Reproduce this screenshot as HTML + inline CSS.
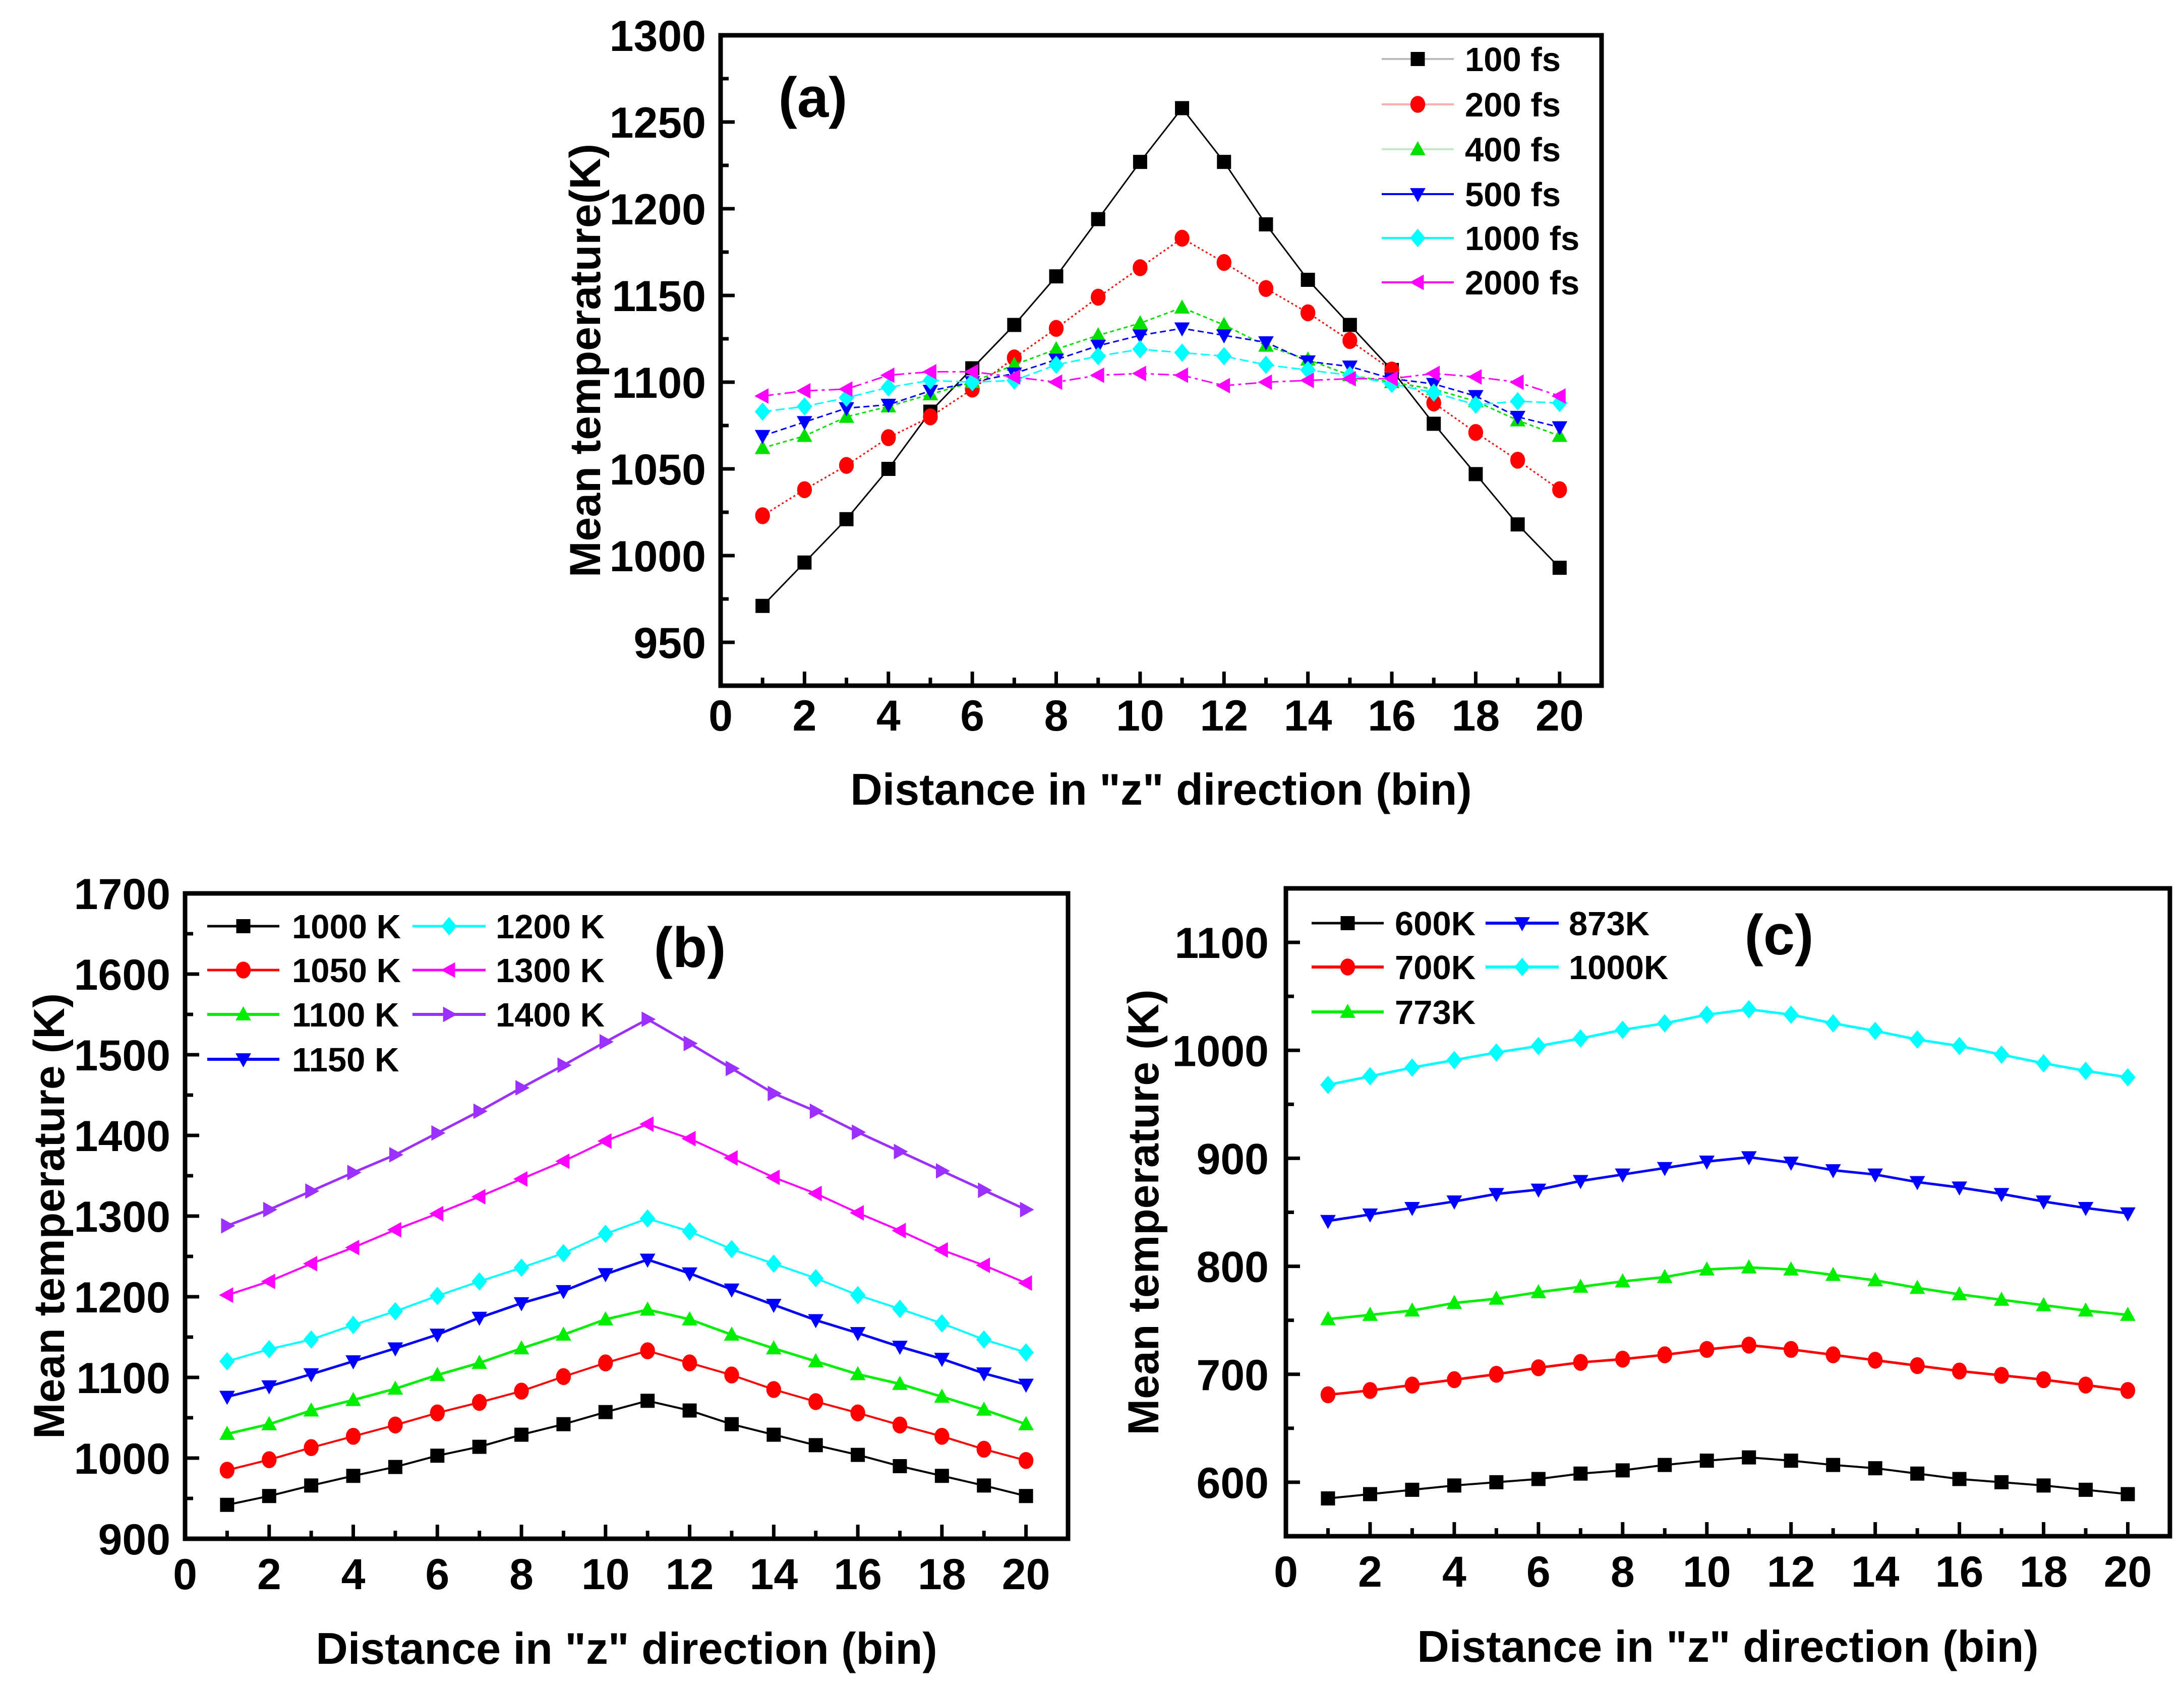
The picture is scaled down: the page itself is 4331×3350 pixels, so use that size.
<!DOCTYPE html>
<html><head><meta charset="utf-8"><title>Mean temperature vs distance</title>
<style>
html,body{margin:0;padding:0;background:#fff;}
svg{display:block;}
text{font-family:"Liberation Sans",Arial,sans-serif;font-weight:bold;fill:#000;}
</style></head>
<body>
<svg id="fig" xmlns="http://www.w3.org/2000/svg" width="4331" height="3350" viewBox="0 0 4331 3350">
<rect x="0" y="0" width="4331" height="3350" fill="#fff"/>
</svg>
<script>
// ---------- data ----------
const bins = [1,2,3,4,5,6,7,8,9,10,11,12,13,14,15,16,17,18,19,20];
const xTicks = [0,2,4,6,8,10,12,14,16,18,20];

// panel (a)
const aLabels = ["100 fs","200 fs","400 fs","500 fs","1000 fs","2000 fs"];
const a100 = [971,996,1021,1050,1083,1108,1133,1161,1194,1227,1258,1227,1191,1159,1133,1107,1076,1047,1018,993];
const a200 = [1023,1038,1052,1068,1080,1096,1114,1131,1149,1166,1183,1169,1154,1140,1124,1107,1088,1071,1055,1038];
const a400 = [1062,1069,1080,1086,1093,1100,1110,1119,1127,1134,1143,1133,1121,1113,1104,1100,1096,1089,1078,1069];
const a500 = [1069,1077,1085,1087,1095,1100,1105,1113,1121,1127,1131,1127,1123,1112,1109,1102,1099,1092,1080,1074];
const a1000 = [1083,1086,1091,1097,1101,1100,1101,1110,1115,1119,1117,1115,1110,1107,1104,1099,1094,1087,1089,1088];
const a2000 = [1092,1095,1096,1104,1106,1106,1103,1100,1104,1105,1104,1098,1100,1101,1102,1102,1105,1103,1100,1092];
const aYTicks = [950,1000,1050,1100,1150,1200,1250,1300];

// panel (b)
const bLabels = ["1000 K","1050 K","1100 K","1150 K","1200 K","1300 K","1400 K"];
const b1000 = [942,953,966,978,989,1003,1014,1029,1042,1057,1071,1059,1042,1029,1016,1004,990,978,966,953];
const b1050 = [985,998,1013,1027,1041,1056,1069,1083,1101,1118,1133,1118,1103,1085,1070,1056,1041,1027,1011,997];
const b1100 = [1030,1042,1059,1072,1086,1103,1118,1136,1153,1172,1184,1172,1153,1136,1120,1104,1092,1076,1060,1042];
const b1150 = [1076,1089,1104,1120,1136,1153,1174,1192,1207,1228,1246,1229,1209,1190,1171,1155,1138,1123,1105,1091];
const b1200 = [1120,1135,1147,1165,1182,1201,1219,1236,1254,1278,1297,1281,1259,1241,1223,1202,1185,1167,1147,1131];
const b1300 = [1202,1219,1241,1261,1283,1303,1324,1346,1368,1393,1414,1396,1372,1348,1328,1304,1282,1258,1239,1217];
const b1400 = [1288,1308,1331,1354,1376,1403,1430,1459,1487,1516,1544,1514,1483,1452,1430,1404,1380,1356,1332,1308];
const bYTicks = [900,1000,1100,1200,1300,1400,1500,1600,1700];

// panel (c)
const cLabels = ["600K","700K","773K","873K","1000K"];
const c600 = [585,589,593,597,600,603,608,611,616,620,623,620,616,613,608,603,600,597,593,589];
const c700 = [681,685,690,695,700,706,711,714,718,723,727,723,718,713,708,703,699,695,690,685];
const c773 = [751,755,759,766,770,776,781,786,790,797,799,797,792,787,780,774,769,764,759,755];
const c873 = [842,848,854,860,867,871,879,885,891,897,901,896,889,885,878,873,867,860,854,849];
const c1000 = [968,976,984,991,998,1004,1011,1019,1025,1033,1038,1033,1025,1018,1010,1004,996,988,981,975];
const cYTicks = [600,700,800,900,1000,1100];

// ---------- drawing ----------
const NS = "http://www.w3.org/2000/svg";
const svg = document.getElementById("fig");
function mk(parent, tag, attrs, txt){
  const e = document.createElementNS(NS, tag);
  for (const k in attrs) e.setAttribute(k, attrs[k]);
  if (txt !== undefined) e.textContent = txt;
  parent.appendChild(e);
  return e;
}
function markerPath(shape, x, y, s){
  if (shape === "square") return `M${x-s},${y-s}h${2*s}v${2*s}h${-2*s}z`;
  if (shape === "up") return `M${x},${y-s*1.15}L${x+s*1.1},${y+s*0.85}L${x-s*1.1},${y+s*0.85}z`;
  if (shape === "down") return `M${x},${y+s*1.15}L${x+s*1.1},${y-s*0.85}L${x-s*1.1},${y-s*0.85}z`;
  if (shape === "diamond") return `M${x},${y-s*1.3}L${x+s*1.1},${y}L${x},${y+s*1.3}L${x-s*1.1},${y}z`;
  if (shape === "left") return `M${x-s*1.15},${y}L${x+s*0.85},${y-s*1.1}L${x+s*0.85},${y+s*1.1}z`;
  if (shape === "right") return `M${x+s*1.15},${y}L${x-s*0.85},${y-s*1.1}L${x-s*0.85},${y+s*1.1}z`;
  return "";
}
function drawMarker(g, shape, x, y, s, color){
  if (shape === "circle") return mk(g, "ellipse", {cx:x, cy:y, rx:s*1.05, ry:s*1.2, fill:color});
  return mk(g, "path", {d:markerPath(shape, x, y, s), fill:color});
}

function panel(cfg){
  const g = mk(svg, "g", {});
  
  
  const X = v => cfg.L + (v - cfg.xmin) / (cfg.xmax - cfg.xmin) * (cfg.R - cfg.L);
  const Y = v => cfg.B - (v - cfg.ymin) / (cfg.ymax - cfg.ymin) * (cfg.B - cfg.T);

  cfg.series.forEach((s, si) => {
    const sg = mk(g, "g", {});
    
    
    const pts = s.values.map((v, i) => X(bins[i]) + "," + Y(v)).join(" ");
    const line = mk(sg, "polyline", {points:pts, fill:"none", stroke:s.color, "stroke-width":s.lw, "stroke-dasharray":s.dash || "none"});
    
    
    s.values.forEach((v, i) => {
      const m = drawMarker(sg, s.shape, X(bins[i]), Y(v), cfg.ms, s.color);
      
      
    });
  });

  const fr = mk(g, "rect", {x:cfg.L, y:cfg.T, width:cfg.R - cfg.L, height:cfg.B - cfg.T, fill:"none", stroke:"#000", "stroke-width":9});
  
  

  for (let v = 1; v <= 20; v++){
    const major = v % 2 === 0;
    const t = mk(g, "line", {x1:X(v), x2:X(v), y1:cfg.B, y2:cfg.B - (major ? 28 : 16), stroke:"#000", "stroke-width":7});
    
    
  }
  xTicks.forEach(v => {
    const t = mk(g, "text", {x:X(v), y:cfg.xLabelY, "text-anchor":"middle", "font-size":86}, String(v));
    
    
  });
  for (let v = cfg.ymin; v <= cfg.ymax + 1e-6; v += cfg.yMinor){
    const major = cfg.yTicks.indexOf(v) >= 0;
    const t = mk(g, "line", {x1:cfg.L, x2:cfg.L + (major ? 28 : 16), y1:Y(v), y2:Y(v), stroke:"#000", "stroke-width":7});
    
    
  }
  cfg.yTicks.forEach(v => {
    const t = mk(g, "text", {x:cfg.yLabelX, y:Y(v) + 31, "text-anchor":"end", "font-size":86}, String(v));
    
    
  });
  const xt = mk(g, "text", {x:(cfg.L + cfg.R) / 2, y:cfg.xTitleY, "text-anchor":"middle", "font-size":88}, 'Distance in "z" direction (bin)');
  
  
  const ym = (cfg.T + cfg.B) / 2;
  const yt = mk(g, "text", {x:cfg.yTitleX, y:ym, "text-anchor":"middle", "font-size":86, transform:`rotate(-90 ${cfg.yTitleX} ${ym})`}, cfg.yTitle);
  
  
  const pl = mk(g, "text", {x:cfg.tagX, y:cfg.tagY, "text-anchor":"middle", "font-size":112}, cfg.tag);
  
  

  const lg = mk(g, "g", {});
  
  
  cfg.legend.forEach((p, i) => {
    const s = cfg.series[p.idx];
    const eg = mk(lg, "g", {});
    
    
    const ln = mk(eg, "line", {x1:p.x1, x2:p.x2, y1:p.y, y2:p.y, stroke:s.legendLine || s.color, "stroke-width":s.lw + 1, "stroke-dasharray":s.legendDash || "none"});
    
    
    const mm = drawMarker(eg, s.shape, (p.x1 + p.x2) / 2, p.y, cfg.ms, s.color);
    
    
    const tx = mk(eg, "text", {x:p.tx, y:p.y + 24, "font-size":67}, s.label);
    
    
  });
}

const aSeries = [
  {label:aLabels[0], values:a100, color:"#000000", shape:"square", lw:3, legendLine:"#bbb"},
  {label:aLabels[1], values:a200, color:"#ff0000", shape:"circle", lw:3, dash:"4 5", legendLine:"#f8b0b0"},
  {label:aLabels[2], values:a400, color:"#00e000", shape:"up", lw:3, dash:"8 6", legendLine:"#c8e8c8"},
  {label:aLabels[3], values:a500, color:"#0000ff", shape:"down", lw:3, dash:"12 7"},
  {label:aLabels[4], values:a1000, color:"#00ffff", shape:"diamond", lw:3, dash:"18 8"},
  {label:aLabels[5], values:a2000, color:"#ff00ff", shape:"left", lw:3, dash:"22 8 6 8"}
];
const aRows = [117,207,296,385,472,560];
panel({name:"panel-a", L:1429, R:3176, T:70, B:1360, xmin:0, xmax:21, ymin:925, ymax:1300, yMinor:25,
  yTicks:aYTicks, xLabelY:1449, yLabelX:1400, xTitleY:1596, yTitleX:1190, yTitle:"Mean temperature(K)",
  tag:"(a)", tagX:1612, tagY:232, ms:14, series:aSeries,
  legend:aRows.map((y, i) => ({idx:i, x1:2740, x2:2883, y:y, tx:2905}))});

const bSeries = [
  {label:bLabels[0], values:b1000, color:"#000000", shape:"square", lw:4},
  {label:bLabels[1], values:b1050, color:"#ff0000", shape:"circle", lw:4},
  {label:bLabels[2], values:b1100, color:"#00ee00", shape:"up", lw:5},
  {label:bLabels[3], values:b1150, color:"#0000ff", shape:"down", lw:5},
  {label:bLabels[4], values:b1200, color:"#00ffff", shape:"diamond", lw:4},
  {label:bLabels[5], values:b1300, color:"#ff00ff", shape:"left", lw:4},
  {label:bLabels[6], values:b1400, color:"#9b30ff", shape:"right", lw:5}
];
const bRows = [1837,1924,2012,2101];
panel({name:"panel-b", L:367, R:2118, T:1772, B:3052, xmin:0, xmax:21, ymin:900, ymax:1700, yMinor:50,
  yTicks:bYTicks, xLabelY:3152, yLabelX:338, xTitleY:3300, yTitleX:127, yTitle:"Mean temperature (K)",
  tag:"(b)", tagX:1368, tagY:1918, ms:14, series:bSeries,
  legend:[
    {idx:0, x1:411, x2:554, y:bRows[0], tx:579},
    {idx:1, x1:411, x2:554, y:bRows[1], tx:579},
    {idx:2, x1:411, x2:554, y:bRows[2], tx:579},
    {idx:3, x1:411, x2:554, y:bRows[3], tx:579},
    {idx:4, x1:818, x2:963, y:bRows[0], tx:983},
    {idx:5, x1:818, x2:963, y:bRows[1], tx:983},
    {idx:6, x1:818, x2:963, y:bRows[2], tx:983}
  ]});

const cSeries = [
  {label:cLabels[0], values:c600, color:"#000000", shape:"square", lw:4},
  {label:cLabels[1], values:c700, color:"#ff0000", shape:"circle", lw:5},
  {label:cLabels[2], values:c773, color:"#00ee00", shape:"up", lw:5},
  {label:cLabels[3], values:c873, color:"#0000ff", shape:"down", lw:5},
  {label:cLabels[4], values:c1000, color:"#00ffff", shape:"diamond", lw:5}
];
const cRows = [1831,1918,2007];
panel({name:"panel-c", L:2550, R:4303, T:1762, B:3047, xmin:0, xmax:21, ymin:550, ymax:1150, yMinor:50,
  yTicks:cYTicks, xLabelY:3147, yLabelX:2516, xTitleY:3296, yTitleX:2297, yTitle:"Mean temperature (K)",
  tag:"(c)", tagX:3528, tagY:1893, ms:14, series:cSeries,
  legend:[
    {idx:0, x1:2601, x2:2744, y:cRows[0], tx:2766},
    {idx:1, x1:2601, x2:2744, y:cRows[1], tx:2766},
    {idx:2, x1:2601, x2:2744, y:cRows[2], tx:2766},
    {idx:3, x1:2946, x2:3091, y:cRows[0], tx:3111},
    {idx:4, x1:2946, x2:3091, y:cRows[1], tx:3111}
  ]});
</script>
</body></html>
